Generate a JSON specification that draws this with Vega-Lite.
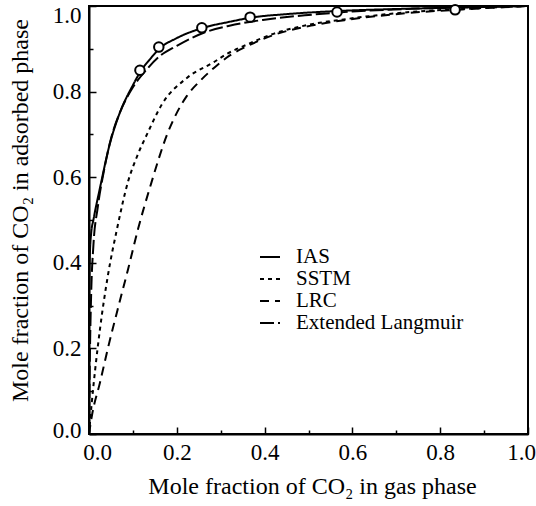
{
  "$schema": "https://vega.github.io/schema/vega-lite/v6.json",
  "width": 439,
  "height": 428,
  "autosize": {"type": "none"},
  "padding": {"left": 89, "top": 6, "right": 8, "bottom": 72},
  "background": "white",
  "config": {
    "font": "Liberation Serif",
    "view": {"stroke": "black", "strokeWidth": 2},
    "axis": {
      "grid": false,
      "labelFlush": false,
      "labelOverlap": false,
      "domainColor": "black",
      "domainWidth": 2,
      "tickColor": "black",
      "tickWidth": 1.5,
      "labelFont": "Liberation Serif",
      "labelFontSize": 23,
      "labelColor": "black",
      "titleFont": "Liberation Serif",
      "titleFontSize": 24,
      "titleFontWeight": "normal",
      "titleColor": "black"
    },
    "legend": {
      "labelFont": "Liberation Serif",
      "labelFontSize": 21,
      "labelColor": "black",
      "labelLimit": 400
    }
  },
  "datasets": {
    "curves": [
      {"model": "IAS", "x": 0.0, "y": 0.3},
      {"model": "IAS", "x": 0.002, "y": 0.42},
      {"model": "IAS", "x": 0.005, "y": 0.47},
      {"model": "IAS", "x": 0.01, "y": 0.5},
      {"model": "IAS", "x": 0.025, "y": 0.575},
      {"model": "IAS", "x": 0.048, "y": 0.68},
      {"model": "IAS", "x": 0.07, "y": 0.75},
      {"model": "IAS", "x": 0.1, "y": 0.815},
      {"model": "IAS", "x": 0.118, "y": 0.848},
      {"model": "IAS", "x": 0.14, "y": 0.877},
      {"model": "IAS", "x": 0.16, "y": 0.9},
      {"model": "IAS", "x": 0.2, "y": 0.925},
      {"model": "IAS", "x": 0.26, "y": 0.949},
      {"model": "IAS", "x": 0.32, "y": 0.963},
      {"model": "IAS", "x": 0.37, "y": 0.973},
      {"model": "IAS", "x": 0.45, "y": 0.981},
      {"model": "IAS", "x": 0.56, "y": 0.988},
      {"model": "IAS", "x": 0.7, "y": 0.993},
      {"model": "IAS", "x": 0.83, "y": 0.996},
      {"model": "IAS", "x": 1.0, "y": 1.0},
      {"model": "SSTM", "x": 0.0, "y": 0.0},
      {"model": "SSTM", "x": 0.006, "y": 0.07},
      {"model": "SSTM", "x": 0.014, "y": 0.15},
      {"model": "SSTM", "x": 0.025, "y": 0.245},
      {"model": "SSTM", "x": 0.043, "y": 0.37},
      {"model": "SSTM", "x": 0.064, "y": 0.48},
      {"model": "SSTM", "x": 0.089, "y": 0.59},
      {"model": "SSTM", "x": 0.11, "y": 0.65},
      {"model": "SSTM", "x": 0.132, "y": 0.7},
      {"model": "SSTM", "x": 0.166, "y": 0.77},
      {"model": "SSTM", "x": 0.223, "y": 0.832},
      {"model": "SSTM", "x": 0.283, "y": 0.868},
      {"model": "SSTM", "x": 0.314, "y": 0.888},
      {"model": "SSTM", "x": 0.36, "y": 0.91},
      {"model": "SSTM", "x": 0.42, "y": 0.935},
      {"model": "SSTM", "x": 0.51, "y": 0.958},
      {"model": "SSTM", "x": 0.59, "y": 0.97},
      {"model": "SSTM", "x": 0.72, "y": 0.985},
      {"model": "SSTM", "x": 0.85, "y": 0.993},
      {"model": "SSTM", "x": 1.0, "y": 1.0},
      {"model": "LRC", "x": 0.0, "y": 0.0},
      {"model": "LRC", "x": 0.007, "y": 0.045},
      {"model": "LRC", "x": 0.025, "y": 0.12},
      {"model": "LRC", "x": 0.043, "y": 0.2},
      {"model": "LRC", "x": 0.065, "y": 0.29},
      {"model": "LRC", "x": 0.089, "y": 0.385},
      {"model": "LRC", "x": 0.112, "y": 0.48},
      {"model": "LRC", "x": 0.14, "y": 0.58},
      {"model": "LRC", "x": 0.178, "y": 0.7},
      {"model": "LRC", "x": 0.223, "y": 0.79},
      {"model": "LRC", "x": 0.253, "y": 0.825},
      {"model": "LRC", "x": 0.29, "y": 0.86},
      {"model": "LRC", "x": 0.32, "y": 0.884},
      {"model": "LRC", "x": 0.36, "y": 0.906},
      {"model": "LRC", "x": 0.42, "y": 0.932},
      {"model": "LRC", "x": 0.51, "y": 0.955},
      {"model": "LRC", "x": 0.59, "y": 0.968},
      {"model": "LRC", "x": 0.72, "y": 0.983},
      {"model": "LRC", "x": 0.85, "y": 0.992},
      {"model": "LRC", "x": 1.0, "y": 1.0},
      {"model": "Extended Langmuir", "x": 0.0, "y": 0.0},
      {"model": "Extended Langmuir", "x": 0.002, "y": 0.18},
      {"model": "Extended Langmuir", "x": 0.005, "y": 0.33},
      {"model": "Extended Langmuir", "x": 0.01, "y": 0.44},
      {"model": "Extended Langmuir", "x": 0.02, "y": 0.53},
      {"model": "Extended Langmuir", "x": 0.035, "y": 0.62},
      {"model": "Extended Langmuir", "x": 0.05, "y": 0.69},
      {"model": "Extended Langmuir", "x": 0.07, "y": 0.75},
      {"model": "Extended Langmuir", "x": 0.1, "y": 0.81},
      {"model": "Extended Langmuir", "x": 0.13, "y": 0.85},
      {"model": "Extended Langmuir", "x": 0.16, "y": 0.882},
      {"model": "Extended Langmuir", "x": 0.2, "y": 0.907},
      {"model": "Extended Langmuir", "x": 0.26, "y": 0.937},
      {"model": "Extended Langmuir", "x": 0.32, "y": 0.954},
      {"model": "Extended Langmuir", "x": 0.4, "y": 0.968},
      {"model": "Extended Langmuir", "x": 0.5, "y": 0.979},
      {"model": "Extended Langmuir", "x": 0.6, "y": 0.987},
      {"model": "Extended Langmuir", "x": 0.75, "y": 0.994},
      {"model": "Extended Langmuir", "x": 1.0, "y": 1.0}
    ],
    "expt": [
      {"x": 0.116, "y": 0.85},
      {"x": 0.159, "y": 0.904},
      {"x": 0.257, "y": 0.949},
      {"x": 0.367, "y": 0.974},
      {"x": 0.565, "y": 0.986},
      {"x": 0.834, "y": 0.991}
    ]
  },
  "layer": [
    {
      "data": {"name": "curves"},
      "mark": {"type": "line", "color": "black", "strokeWidth": 2, "interpolate": "monotone"},
      "encoding": {
        "x": {
          "field": "x", "type": "quantitative",
          "scale": {"domain": [0, 1], "nice": false, "zero": false},
          "axis": {
            "values": [0, 0.1, 0.2, 0.3, 0.4, 0.5, 0.6, 0.7, 0.8, 0.9, 1.0],
            "labelExpr": "round(datum.value*10) % 2 == 0 ? format(datum.value, '.1f') : ''",
            "tickSize": {"condition": {"test": "round(datum.value*10) % 2 == 1", "value": -4}, "value": -7},
            "labelPadding": 14,
            "labelOffset": {"condition": [{"test": "datum.value == 0", "value": 8}, {"test": "datum.value == 1", "value": -7}], "value": 0},
            "title": "Mole fraction of CO₂ in gas phase",
            "titleX": 223,
            "titleY": 59,
            "titleAlign": "center",
            "titleBaseline": "alphabetic"
          }
        },
        "y": {
          "field": "y", "type": "quantitative",
          "scale": {"domain": [0, 1], "nice": false, "zero": false},
          "axis": {
            "values": [0, 0.1, 0.2, 0.3, 0.4, 0.5, 0.6, 0.7, 0.8, 0.9, 1.0],
            "labelExpr": "round(datum.value*10) % 2 == 0 ? format(datum.value, '.1f') : ''",
            "tickSize": {"condition": {"test": "round(datum.value*10) % 2 == 1", "value": -4}, "value": -7},
            "labelPadding": 15,
            "labelOffset": {"condition": [{"test": "datum.value == 1", "value": 9}, {"test": "datum.value == 0", "value": -4}], "value": 0},
            "title": "Mole fraction of CO₂ in adsorbed phase",
            "titleX": -62,
            "titleY": 204,
            "titleAlign": "center",
            "titleBaseline": "alphabetic",
            "titleAngle": -90
          }
        },
        "strokeDash": {
          "field": "model", "type": "nominal",
          "scale": {
            "domain": ["IAS", "SSTM", "LRC", "Extended Langmuir"],
            "range": [[1, 0], [4, 4], [9, 6], [14, 4]]
          },
          "legend": {
            "title": null,
            "orient": "none",
            "legendX": 170,
            "legendY": 240,
            "symbolType": "stroke",
            "symbolSize": 400,
            "symbolStrokeWidth": 2,
            "symbolStrokeColor": "black",
            "labelOffset": 15,
            "rowPadding": 1,
            "padding": 0
          }
        }
      }
    },
    {
      "data": {"name": "expt"},
      "mark": {"type": "point", "shape": "circle", "filled": true, "fill": "white", "stroke": "black", "strokeWidth": 2, "size": 90, "opacity": 1},
      "encoding": {
        "x": {"field": "x", "type": "quantitative"},
        "y": {"field": "y", "type": "quantitative"}
      }
    }
  ]
}
